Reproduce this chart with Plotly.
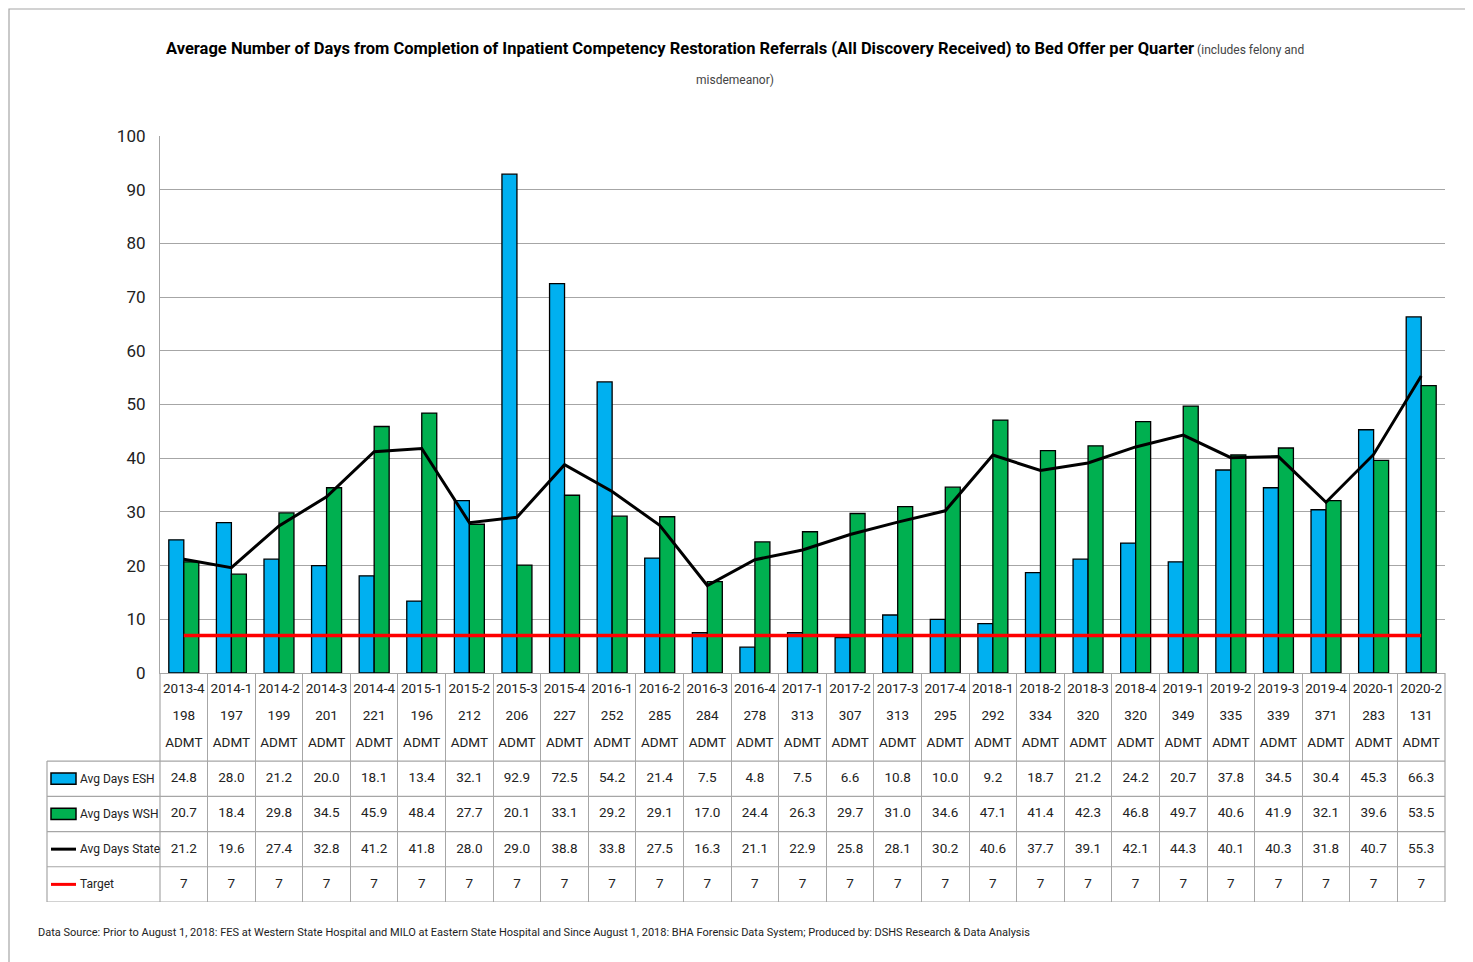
import plotly.graph_objects as go

quarters = ["2013-4", "2014-1", "2014-2", "2014-3", "2014-4", "2015-1", "2015-2", "2015-3",
            "2015-4", "2016-1", "2016-2", "2016-3", "2016-4", "2017-1", "2017-2", "2017-3",
            "2017-4", "2018-1", "2018-2", "2018-3", "2018-4", "2019-1", "2019-2", "2019-3",
            "2019-4", "2020-1", "2020-2"]
admits = [198, 197, 199, 201, 221, 196, 212, 206, 227, 252, 285, 284, 278, 313, 307, 313,
          295, 292, 334, 320, 320, 349, 335, 339, 371, 283, 131]
esh = [24.8, 28.0, 21.2, 20.0, 18.1, 13.4, 32.1, 92.9, 72.5, 54.2, 21.4, 7.5, 4.8, 7.5, 6.6,
       10.8, 10.0, 9.2, 18.7, 21.2, 24.2, 20.7, 37.8, 34.5, 30.4, 45.3, 66.3]
wsh = [20.7, 18.4, 29.8, 34.5, 45.9, 48.4, 27.7, 20.1, 33.1, 29.2, 29.1, 17.0, 24.4, 26.3, 29.7,
       31.0, 34.6, 47.1, 41.4, 42.3, 46.8, 49.7, 40.6, 41.9, 32.1, 39.6, 53.5]
state = [21.2, 19.6, 27.4, 32.8, 41.2, 41.8, 28.0, 29.0, 38.8, 33.8, 27.5, 16.3, 21.1, 22.9, 25.8,
         28.1, 30.2, 40.6, 37.7, 39.1, 42.1, 44.3, 40.1, 40.3, 31.8, 40.7, 55.3]
target = [7] * len(quarters)

FONT = "Roboto, Liberation Sans, sans-serif"
BLUE = "#00B0F0"
GREEN = "#00B050"
GRID = "#A6A6A6"
TXT = "#222"

# page puts the figure 8px in from the corner
OFF = 8
W, H = 1473 - OFF, 962 - OFF
L, R, T, B = 152, 28, 128, 60
PW, PH = W - L - R, H - T - B
TABLE_H = 229  # px from x axis down to bottom of table


def px_x(px):
    return (px - OFF - L) / PW


def px_y(px):
    return (H - B - (px - OFF)) / PH


fig = go.Figure()

fig.add_trace(go.Bar(x=quarters, y=esh, name="Avg Days ESH",
                     marker=dict(color=BLUE, line=dict(color="black", width=1.3))))
fig.add_trace(go.Bar(x=quarters, y=wsh, name="Avg Days WSH",
                     marker=dict(color=GREEN, line=dict(color="black", width=1.3))))
fig.add_trace(go.Scatter(x=quarters, y=state, name="Avg Days State", mode="lines",
                         line=dict(color="black", width=3)))
fig.add_trace(go.Scatter(x=quarters, y=target, name="Target", mode="lines",
                         line=dict(color="#FF0000", width=3.5)))

# data table under the chart (y2 units: 4 data rows + 2.5 for the header)
cell_font = dict(family=FONT, size=13.5, color=TXT)
header_rows = [(6.02, quarters), (5.25, [str(a) for a in admits]), (4.5, ["ADMT"] * len(quarters))]
for yv, labels in header_rows:
    fig.add_trace(go.Scatter(x=quarters, y=[yv] * len(quarters), text=labels, mode="text",
                             textfont=cell_font, xaxis="x2", yaxis="y2", hoverinfo="skip"))

table_rows = [("Avg Days ESH", esh, 3.5, "{:.1f}"),
              ("Avg Days WSH", wsh, 2.5, "{:.1f}"),
              ("Avg Days State", state, 1.5, "{:.1f}"),
              ("Target", target, 0.5, "{:d}")]
for name, vals, yv, fmt in table_rows:
    fig.add_trace(go.Scatter(x=quarters, y=[yv] * len(quarters), text=[fmt.format(v) for v in vals],
                             mode="text", textfont=cell_font, xaxis="x2", yaxis="y2", hoverinfo="skip"))
    fig.add_annotation(text=name, xref="paper", yref="y2", x=px_x(78), y=yv, xanchor="left",
                       yanchor="middle", showarrow=False, font=dict(family=FONT, size=12, color=TXT))

shapes = []
# legend keys in the table
for color, yv in [(BLUE, 3.5), (GREEN, 2.5)]:
    shapes.append(dict(type="rect", xref="paper", yref="y2", x0=px_x(51), x1=px_x(76),
                       y0=yv - 0.16, y1=yv + 0.16, fillcolor=color, line=dict(color="black", width=1.5)))
for color, yv in [("black", 1.5), ("#FF0000", 0.5)]:
    shapes.append(dict(type="line", xref="paper", yref="y2", x0=px_x(51), x1=px_x(76),
                       y0=yv, y1=yv, line=dict(color=color, width=3)))
# table rules
for yv in range(5):
    shapes.append(dict(type="line", xref="paper", yref="y2", x0=px_x(47), x1=1, y0=yv, y1=yv,
                       line=dict(color=GRID, width=1.2)))
shapes.append(dict(type="line", xref="paper", yref="y2", x0=px_x(47), x1=px_x(47), y0=0, y1=4,
                   line=dict(color=GRID, width=1.2)))
shapes.append(dict(type="line", xref="paper", yref="y2", x0=0, x1=0, y0=0, y1=6.5,
                   line=dict(color=GRID, width=1.2)))
shapes.append(dict(type="line", xref="paper", yref="y2", x0=1, x1=1, y0=0, y1=6.5,
                   line=dict(color=GRID, width=1.2)))
# outer frame
shapes.append(dict(type="rect", xref="paper", yref="paper", x0=px_x(9), x1=px_x(1468),
                   y0=px_y(975), y1=px_y(9), line=dict(color=GRID, width=1.2)))

fig.add_annotation(
    text="<b>Average Number of Days from Completion of Inpatient Competency Restoration Referrals "
         "(All Discovery Received) to Bed Offer per Quarter</b>"
         "<span style='font-size:12px;color:#444'> (includes felony and</span>",
    xref="paper", yref="paper", x=px_x(735), y=px_y(48), xanchor="center", yanchor="middle",
    showarrow=False, font=dict(family=FONT, size=16.5, color="black"))
fig.add_annotation(text="misdemeanor)", xref="paper", yref="paper", x=px_x(735), y=px_y(80),
                   xanchor="center", yanchor="middle", showarrow=False,
                   font=dict(family=FONT, size=12, color="#444"))
fig.add_annotation(
    text="Data Source: Prior to August 1, 2018: FES at Western State Hospital and MILO at Eastern State "
         "Hospital and Since August 1, 2018: BHA Forensic Data System; Produced by: DSHS Research & Data Analysis",
    xref="paper", yref="paper", x=px_x(36), y=px_y(933), xanchor="left", yanchor="middle",
    showarrow=False, font=dict(family=FONT, size=11, color=TXT))

split = TABLE_H / PH
fig.update_layout(
    width=W, height=H,
    margin=dict(l=L, r=R, t=T, b=B),
    paper_bgcolor="white", plot_bgcolor="white",
    barmode="group", bargap=0.37, bargroupgap=0,
    showlegend=False,
    font=dict(family=FONT, color=TXT),
    xaxis=dict(type="category", domain=[0, 1], anchor="y", showticklabels=False,
               showgrid=False, showline=True, linecolor=GRID, linewidth=1.2,
               ticks="", range=[-0.5, len(quarters) - 0.5]),
    yaxis=dict(domain=[split, 1], range=[0, 100], dtick=10, showgrid=True, gridcolor=GRID,
               gridwidth=1.2, showline=True, linecolor=GRID, linewidth=1.2, zeroline=False,
               tickfont=dict(family=FONT, size=17, color=TXT), ticks="", ticklabelstandoff=10),
    xaxis2=dict(type="category", matches="x", domain=[0, 1], anchor="y2", showticklabels=False,
                tickson="boundaries", showgrid=True, gridcolor=GRID, gridwidth=1.2,
                showline=False, zeroline=False, ticks=""),
    yaxis2=dict(domain=[0, split], range=[0, 6.5], showgrid=False, showticklabels=False,
                zeroline=False, showline=False, ticks=""),
    shapes=shapes,
)

fig.write_html("out.html")
